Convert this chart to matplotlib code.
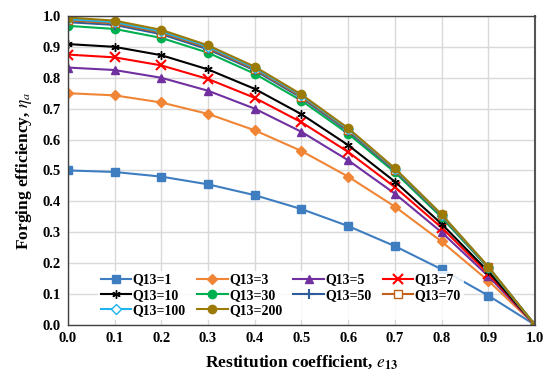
import matplotlib.pyplot as plt

# restitution coefficient (x) and forging efficiency per Q13
e13 = [0.0, 0.1, 0.2, 0.3, 0.4, 0.5, 0.6, 0.7, 0.8, 0.9, 1.0]

eta_q1   = [0.500, 0.495, 0.480, 0.455, 0.420, 0.375, 0.320, 0.255, 0.180, 0.095, 0.0]
eta_q3   = [0.750, 0.743, 0.720, 0.683, 0.630, 0.563, 0.480, 0.383, 0.270, 0.143, 0.0]
eta_q5   = [0.833, 0.825, 0.800, 0.758, 0.700, 0.625, 0.533, 0.425, 0.300, 0.158, 0.0]
eta_q7   = [0.875, 0.866, 0.840, 0.796, 0.735, 0.656, 0.560, 0.446, 0.315, 0.166, 0.0]
eta_q10  = [0.909, 0.900, 0.873, 0.827, 0.764, 0.682, 0.582, 0.464, 0.327, 0.173, 0.0]
eta_q30  = [0.968, 0.958, 0.929, 0.881, 0.813, 0.726, 0.619, 0.494, 0.348, 0.184, 0.0]
eta_q50  = [0.980, 0.971, 0.941, 0.892, 0.824, 0.735, 0.627, 0.500, 0.353, 0.186, 0.0]
eta_q70  = [0.986, 0.976, 0.946, 0.897, 0.828, 0.739, 0.631, 0.503, 0.355, 0.187, 0.0]
eta_q100 = [0.990, 0.980, 0.950, 0.901, 0.832, 0.743, 0.634, 0.505, 0.357, 0.188, 0.0]
eta_q200 = [0.995, 0.985, 0.955, 0.905, 0.836, 0.746, 0.637, 0.507, 0.358, 0.189, 0.0]

labels = ['Q13=1', 'Q13=3', 'Q13=5', 'Q13=7', 'Q13=10',
          'Q13=30', 'Q13=50', 'Q13=70', 'Q13=100', 'Q13=200']
series = [eta_q1, eta_q3, eta_q5, eta_q7, eta_q10,
          eta_q30, eta_q50, eta_q70, eta_q100, eta_q200]

# (color, marker, marker facecolor)
styles = [
    ('#3F7DC1', 's', None),
    ('#F08535', 'D', None),
    ('#7030A0', '^', None),
    ('#FF0000', 'x', None),
    ('#000000', (6, 2, 0), None),
    ('#00B050', 'o', None),
    ('#2E5C9A', '+', None),
    ('#C0601A', 's', 'white'),
    ('#1DB4F0', 'D', 'white'),
    ('#9C7A08', 'o', None),
]

plt.rcParams['font.family'] = ['Liberation Serif', 'DejaVu Serif']
plt.rcParams['mathtext.fontset'] = 'stix'

fig = plt.figure(figsize=(5.47, 3.80), dpi=100)
ax = fig.add_axes([0.124, 0.145, 0.854, 0.813])

handles = []
for y, lab, (c, m, fc) in zip(series, labels, styles):
    ms = 5 if m == 'D' else 6
    if m in ('x', '+'):
        ms = 7
    h, = ax.plot(e13, y, color=c, lw=1.5, marker=m, ms=ms,
                 mfc=fc if fc else c, mec=c,
                 mew=1.5 if m in ('x', '+') else 1.0, label=lab)
    handles.append(h)

ax.set_xlim(0, 1.0)
ax.set_ylim(0, 1.0)
ax.set_xticks([i / 10 for i in range(11)])
ax.set_yticks([i / 10 for i in range(11)])
ax.set_xticklabels(['%.1f' % (i / 10) for i in range(11)])
ax.set_yticklabels(['%.1f' % (i / 10) for i in range(11)])
ax.tick_params(length=0, labelsize=10.5, pad=5)
for t in ax.get_xticklabels() + ax.get_yticklabels():
    t.set_fontweight('bold')

ax.grid(True, color='#D9D9D9', lw=1.0)
ax.set_axisbelow(True)
for s in ax.spines.values():
    s.set_color('#404040')
    s.set_linewidth(1.0)
ax.spines['right'].set_color('#555555')
ax.spines['right'].set_linewidth(1.5)

ax.set_xlabel(r'Restitution coefficient, $\mathbf{\mathit{e}}_{\mathbf{13}}$',
              fontsize=12.5, fontweight='bold', labelpad=6)
ax.set_ylabel(r'Forging efficiency, $\mathbf{\mathit{\eta}}_{\mathbf{\mathit{a}}}$',
              fontsize=12.5, fontweight='bold', labelpad=6)

# legend is filled column by column; reorder so it reads row by row
order = [0, 4, 8, 1, 5, 9, 2, 6, 3, 7]
leg = ax.legend([handles[i] for i in order], [labels[i] for i in order],
                loc='lower left', bbox_to_anchor=(0.05, -0.005), ncol=4,
                frameon=True, prop={'weight': 'bold', 'size': 10},
                handlelength=2.2, handletextpad=0.1, columnspacing=0.8,
                labelspacing=0.15, borderpad=0.2)
leg.get_frame().set_facecolor('white')
leg.get_frame().set_edgecolor('none')
leg.get_frame().set_alpha(0.85)

fig.savefig('out.png', dpi=100)
